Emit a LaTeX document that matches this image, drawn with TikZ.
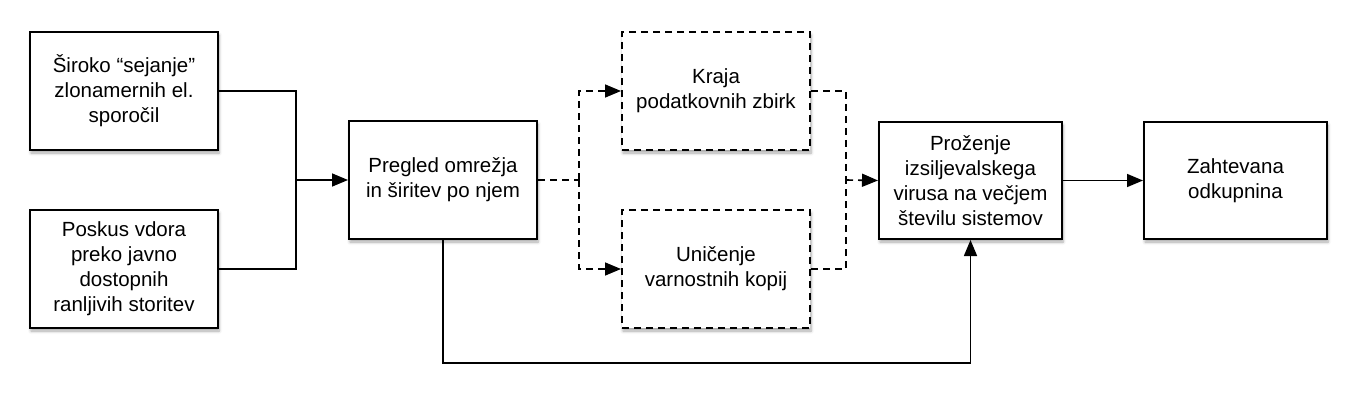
\documentclass[tikz,border=0pt]{standalone}
\usepackage{fontspec}
\setmainfont{Liberation Sans}
\usetikzlibrary{arrows.meta,shadows.blur}
\begin{document}
\begin{tikzpicture}[x=1pt,y=-1pt,
  box/.style={draw=black, line width=2pt, fill=white, rectangle, inner sep=0pt,
    minimum width=188pt, minimum height=118pt, align=center,
    font=\fontsize{20.5}{25}\selectfont,
    blur shadow={shadow xshift=1pt, shadow yshift=-3pt, shadow blur steps=6, shadow opacity=35, shadow blur radius=3pt}},
  dbox/.style={box, dash pattern=on 7pt off 5pt},
  conn/.style={line width=1.6pt, draw=black},
  dconn/.style={conn, dash pattern=on 7pt off 5pt},
  tip/.style={-{Triangle[length=16pt,width=13pt]}}
]
\useasboundingbox (0,0) rectangle (1366,401);
\node[box] (b1) at (124,91) {Široko “sejanje”\\zlonamernih el.\\sporočil};
\node[box] (b2) at (124,269) {Poskus vdora\\preko javno\\dostopnih\\ranljivih storitev};
\node[box] (b3) at (443,180) {Pregled omrežja\\in širitev po njem};
\node[dbox] (b4) at (716,91) {Kraja\\podatkovnih zbirk};
\node[dbox] (b5) at (716,269) {Uničenje\\varnostnih kopij};
\node[box, minimum width=183pt, minimum height=117pt] (b6) at (970.5,180.5) {Proženje\\izsiljevalskega\\virusa na večjem\\številu sistemov};
\node[box, minimum width=183pt, minimum height=117pt] (b7) at (1235.5,180.5) {Zahtevana\\odkupnina};

\coordinate (j1) at (296,180);
\coordinate (j2) at (579,180);
\coordinate (j3) at (846,180);
\coordinate (j4) at (443,363);

\draw[conn] (b1.east) -| (j1);
\draw[conn] (b2.east) -| (j1);
\draw[conn,tip] (j1) -- (b3.west);

\draw[dconn] (b3.east) -- (j2);
\draw[dconn,tip] (j2) |- (b4.west);
\draw[dconn,tip] (j2) |- (b5.west);

\draw[dconn] (b4.east) -| (j3);
\draw[dconn] (b5.east) -| (j3);
\draw[dconn,tip] (j3) -- (b6.west);

\draw[conn,tip] (b6.east) -- (b7.west);
\draw[conn,tip] (b3.south) -- (j4) -| (b6.south);
\end{tikzpicture}
\end{document}
